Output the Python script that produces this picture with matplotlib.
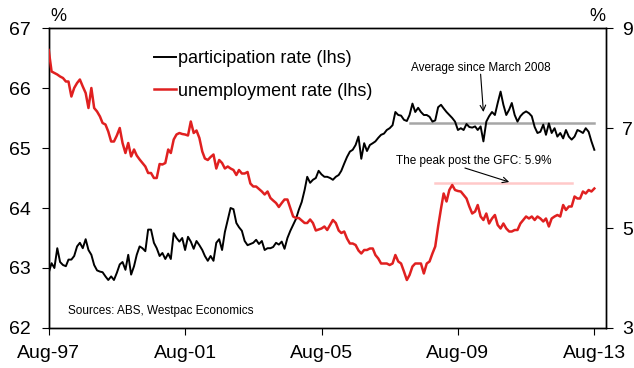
import numpy as np
import pandas as pd
import matplotlib
matplotlib.use('Agg')
import matplotlib.pyplot as plt
import matplotlib.dates as mdates

plt.rcParams['font.family'] = ['Liberation Sans', 'DejaVu Sans']

# monthly data, Aug-97 .. Aug-13
dates = pd.date_range('1997-08-01', periods=193, freq='MS')

participation = [
    62.92, 63.08, 63.00, 63.33, 63.10, 63.05, 63.03, 63.14, 63.14, 63.20,
    63.36, 63.42, 63.33, 63.48, 63.30, 63.22, 63.05, 62.96, 62.94, 62.93,
    62.86, 62.80, 62.86, 62.80, 62.92, 63.06, 63.10, 62.97, 63.22, 62.89,
    63.03, 63.22, 63.36, 63.33, 63.28, 63.64, 63.64, 63.42, 63.33, 63.20,
    63.25, 63.15, 63.24, 63.15, 63.58, 63.50, 63.44, 63.50, 63.30, 63.52,
    63.44, 63.32, 63.45, 63.38, 63.30, 63.20, 63.12, 63.20, 63.12, 63.42,
    63.48, 63.30, 63.60, 63.80, 64.00, 63.98, 63.75, 63.68, 63.62, 63.45,
    63.38, 63.40, 63.42, 63.47, 63.40, 63.45, 63.30, 63.33, 63.33, 63.35,
    63.42, 63.39, 63.44, 63.32, 63.50, 63.62, 63.72, 63.82, 63.97, 64.10,
    64.30, 64.52, 64.42, 64.47, 64.50, 64.62, 64.56, 64.52, 64.52, 64.50,
    64.47, 64.52, 64.55, 64.62, 64.74, 64.85, 64.94, 64.97, 65.05, 65.19,
    64.82, 65.08, 64.95, 65.05, 65.08, 65.11, 65.17, 65.22, 65.24, 65.30,
    65.33, 65.38, 65.60, 65.55, 65.54, 65.47, 65.45, 65.55, 65.74, 65.60,
    65.67, 65.60, 65.55, 65.55, 65.52, 65.44, 65.46, 65.68, 65.72, 65.66,
    65.60, 65.55, 65.50, 65.44, 65.30, 65.33, 65.30, 65.40, 65.35, 65.34,
    65.36, 65.30, 65.36, 65.11, 65.44, 65.53, 65.60, 65.55, 65.75, 65.94,
    65.72, 65.55, 65.64, 65.75, 65.55, 65.44, 65.53, 65.58, 65.61, 65.58,
    65.53, 65.35, 65.25, 65.27, 65.39, 65.22, 65.41, 65.25, 65.33, 65.19,
    65.25, 65.16, 65.30, 65.19, 65.14, 65.19, 65.30, 65.28, 65.25, 65.33,
    65.27, 65.11, 64.97,
]

unemployment = [
    8.56, 8.13, 8.10, 8.07, 8.03, 8.00, 7.93, 7.93, 7.63, 7.80,
    7.90, 7.97, 7.83, 7.70, 7.40, 7.80, 7.40, 7.33, 7.23, 7.10,
    7.07, 6.93, 6.73, 6.73, 6.85, 7.00, 6.70, 6.50, 6.70, 6.43,
    6.57, 6.45, 6.37, 6.30, 6.23, 6.10, 6.10, 6.00, 6.00, 6.28,
    6.27, 6.30, 6.57, 6.50, 6.77, 6.87, 6.90, 6.88, 6.87, 6.85,
    7.13, 6.90, 6.95, 6.80, 6.53, 6.39, 6.36, 6.42, 6.47, 6.19,
    6.36, 6.30, 6.19, 6.23, 6.19, 6.16, 6.06, 6.16, 6.09, 6.09,
    6.12, 5.89, 5.83, 5.83, 5.78, 5.73, 5.67, 5.73, 5.60, 5.55,
    5.50, 5.42, 5.50, 5.57, 5.57, 5.40, 5.23, 5.20, 5.20, 5.15,
    5.10, 5.10, 5.17, 5.10, 4.95, 4.97, 4.99, 5.03, 4.96, 5.06,
    5.16, 5.10, 4.95, 4.90, 4.93, 4.79, 4.69, 4.69, 4.66, 4.55,
    4.49, 4.56, 4.56, 4.59, 4.59, 4.46, 4.39, 4.29, 4.29, 4.29,
    4.26, 4.29, 4.46, 4.33, 4.29, 4.13, 3.96, 4.06, 4.23, 4.29,
    4.29, 4.29, 4.09, 4.29, 4.33, 4.49, 4.63, 5.03, 5.39, 5.69,
    5.53, 5.76, 5.86, 5.76, 5.74, 5.73, 5.66, 5.59, 5.43, 5.29,
    5.33, 5.46, 5.23, 5.16, 5.29, 5.09, 5.19, 5.26, 5.06, 4.99,
    5.09, 4.99, 4.93, 4.93, 4.96, 4.96, 5.09, 5.16, 5.23, 5.19,
    5.23, 5.16, 5.23, 5.19, 5.13, 5.19, 5.03, 5.19, 5.23, 5.26,
    5.23, 5.46, 5.36, 5.43, 5.43, 5.63, 5.59, 5.59, 5.73, 5.69,
    5.76, 5.73, 5.79,
]

avg_since_mar08 = 65.42
avg_start, avg_end = '2008-03-01', '2013-08-01'
gfc_peak = 5.9
peak_start, peak_end = '2008-12-01', '2012-12-01'

fig = plt.figure(figsize=(6.34, 3.68), dpi=100)
ax = fig.add_axes([0.0768, 0.1087, 0.8786, 0.8152])
ax2 = ax.twinx()

# reference lines
ax.plot(pd.to_datetime([avg_start, avg_end]), [avg_since_mar08] * 2,
        color='#a6a6a6', lw=1.8, zorder=1)
ax2.plot(pd.to_datetime([peak_start, peak_end]), [gfc_peak] * 2,
         color='#ffc9c9', lw=1.8, zorder=1)

l1, = ax.plot(dates, participation, color='black', lw=1.4, zorder=3)
l2, = ax2.plot(dates, unemployment, color='#e02020', lw=1.8, zorder=3)

ax.set_ylim(62, 67)
ax.set_yticks(range(62, 68))
ax2.set_ylim(3, 9)
ax2.set_yticks([3, 5, 7, 9])
ax.set_xlim(pd.Timestamp('1997-08-01'), pd.Timestamp('2013-12-01'))
ax.set_xticks(pd.to_datetime(['1997-08-01', '2001-08-01', '2005-08-01',
                              '2009-08-01', '2013-08-01']))
ax.xaxis.set_major_formatter(mdates.DateFormatter('%b-%y'))

ax.tick_params(axis='y', labelsize=14, length=5, pad=8)
ax.tick_params(axis='x', labelsize=14, length=5, pad=7)
ax2.tick_params(axis='y', labelsize=14, length=5, pad=7)
for a in (ax, ax2):
    for s in a.spines.values():
        s.set_linewidth(1.0)

fig.text(0.092, 0.955, '%', fontsize=13, ha='center', va='center')
fig.text(0.942, 0.955, '%', fontsize=13, ha='center', va='center')

ax.legend([l1, l2], ['participation rate (lhs)', 'unemployment rate (lhs)'],
          loc='upper left', bbox_to_anchor=(0.16, 0.98), frameon=False,
          fontsize=13, handlelength=1.2, handletextpad=0.1, labelspacing=0.85)

# annotations
ax.text(pd.Timestamp('2010-04-01'), 66.33, 'Average since March 2008',
        fontsize=8.5, ha='center', va='center')
ax.annotate('', xy=(pd.Timestamp('2010-05-01'), 65.6),
            xytext=(pd.Timestamp('2010-04-01'), 66.23),
            arrowprops=dict(arrowstyle='->', color='black', lw=0.8,
                            shrinkA=0, shrinkB=0))
ax2.text(pd.Timestamp('2010-01-15'), 6.35, 'The peak post the GFC: 5.9%',
         fontsize=8.5, ha='center', va='center')
ax2.annotate('', xy=(pd.Timestamp('2011-02-01'), 5.92),
             xytext=(pd.Timestamp('2009-10-15'), 6.2),
             arrowprops=dict(arrowstyle='->', color='black', lw=0.8,
                             shrinkA=0, shrinkB=0))
ax.text(0.035, 0.055, 'Sources: ABS, Westpac Economics', transform=ax.transAxes,
        fontsize=8.5, ha='left', va='center')

fig.savefig('out.png', dpi=100)
